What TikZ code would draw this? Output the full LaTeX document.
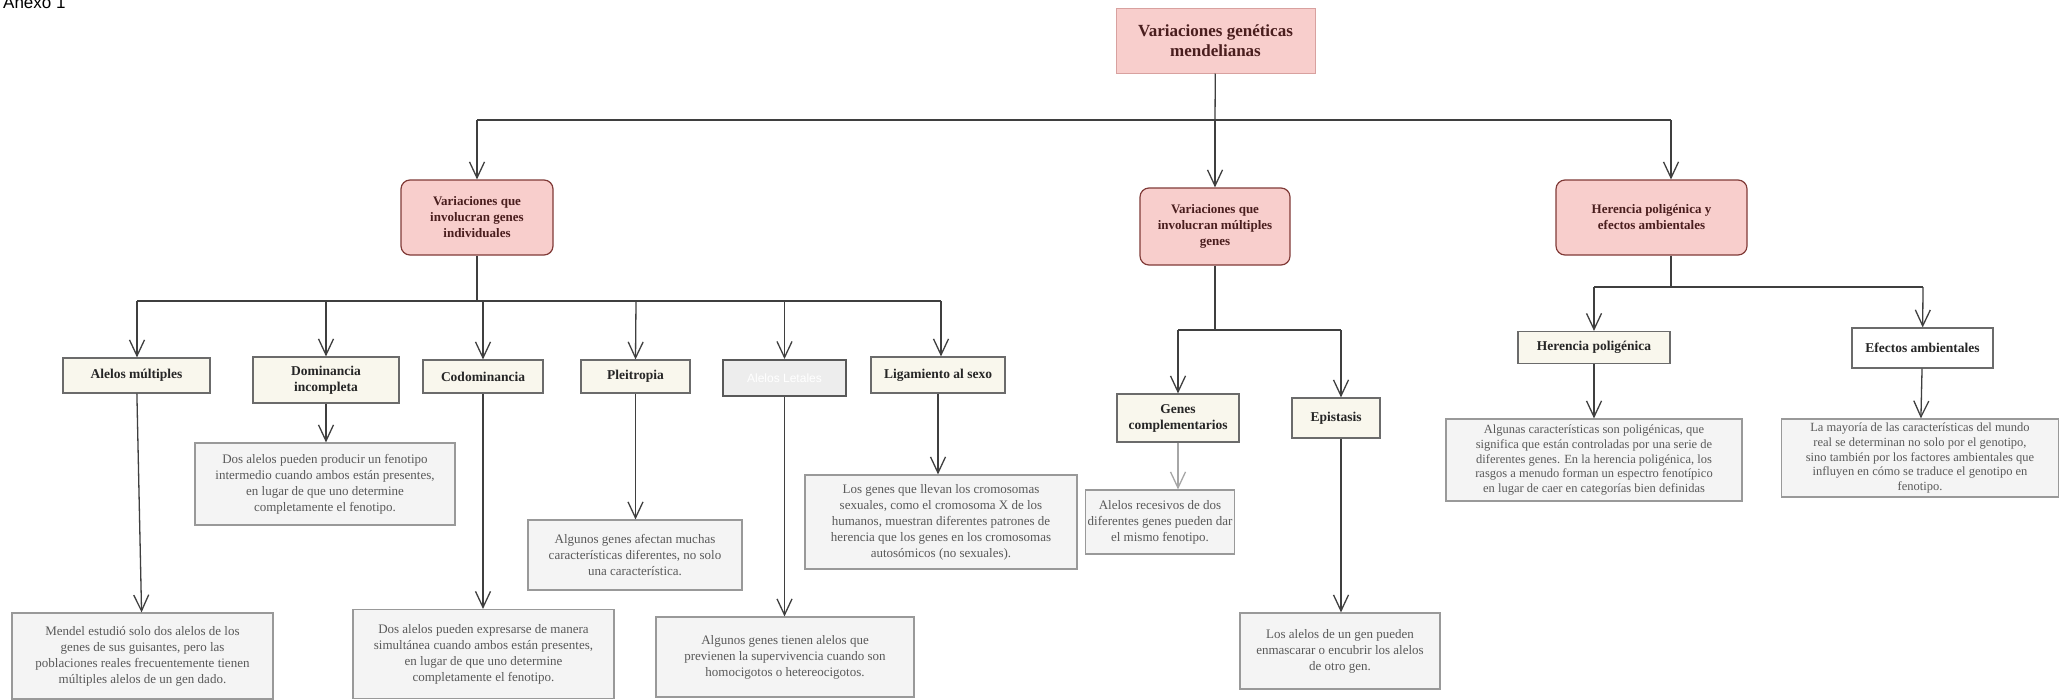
\documentclass[tikz,border=0pt]{standalone}
\usepackage{fontspec}
\setmainfont{Liberation Serif}
\newfontfamily\headfont{Liberation Sans}
\usetikzlibrary{arrows.meta}
\usetikzlibrary{positioning}
\definecolor{c1}{HTML}{F8CECC}
\definecolor{c2}{HTML}{B85450}
\definecolor{c3}{HTML}{F9F7ED}
\definecolor{c4}{HTML}{F4F4F4}
\definecolor{c5}{HTML}{6B6B6B}
\definecolor{c6}{HTML}{3F3F3F}
\definecolor{c7}{HTML}{4A1E1E}
\tikzset{
  root/.style = {rectangle, draw=c2!55, fill=c1, line width=1pt, text=c7, align=center, font=\bfseries\fontsize{17}{20}\selectfont},
  branch/.style = {rectangle, rounded corners=9pt, draw=c2!70!black, fill=c1, line width=1.2pt, text=c7, align=center, font=\bfseries\fontsize{13}{16}\selectfont},
  topic/.style = {rectangle, draw=c5, fill=c3, line width=1.2pt, text=black!85, align=center, font=\bfseries\fontsize{13.5}{16}\selectfont},
  note/.style = {rectangle, draw=black!40, fill=c4, line width=1.2pt, text=black!65, align=center, inner sep=2pt, font=\fontsize{13}{16}\selectfont},
  % notesmall/.style = {note, font=\fontsize{12}{14}\selectfont},
  link/.style = {c6, line width=1.3pt},
  edge/.style = {-{Straight Barb[length=16pt, width=15pt]}, c6, line width=1.3pt},
}

\begin{document}
\begin{tikzpicture}[x=1pt, y=-1pt]
\useasboundingbox (0,0) rectangle (2068,699);
\fill[white] (0,0) rectangle (2068,699);

\node[anchor=base west, inner sep=0pt, font=\headfont\fontsize{17}{20}\selectfont] (anexo) at (3,8) {Anexo 1};

% root and first level
\node[root, minimum width=199pt, minimum height=65pt] (top) at (1215.5,40.5) {Variaciones genéticas\\mendelianas};

\node[branch, minimum width=152pt, minimum height=75pt] (ind) at (477,217.5) {Variaciones que\\involucran genes\\individuales};

\node[branch, minimum width=150pt, minimum height=77pt] (mult) at (1215,226.5) {Variaciones que\\involucran múltiples\\genes};

\node[branch, minimum width=191pt, minimum height=75pt] (poli) at (1651.5,217.5) {Herencia poligénica y\\efectos ambientales};

\coordinate (j0) at (1215,120);
\coordinate (jA) at (477,120);
\coordinate (jC) at (1671,120);

\draw[link] (top) -- (j0);
\draw[link] (jA) -- (jC);
\draw[edge] (jA) -- (ind);
\draw[edge] (j0) -- (mult);
\draw[edge] (jC) -- (jC |- poli.north);

% genes individuales
\node[topic, minimum width=147pt, minimum height=35pt] (alelos) at (136.5,375.5) {Alelos múltiples};

\node[topic, minimum width=146pt, minimum height=46pt] (domin) at (326,380) {Dominancia\\incompleta};

\node[topic, minimum width=120pt, minimum height=33pt] (codom) at (483,376.5) {Codominancia};

\node[topic, minimum width=109pt, minimum height=33pt] (pleio) at (635.5,376.5) {Pleitropia};

\node[topic, fill=black!7, draw=black!65, line width=2pt, text=white, font=\headfont\fontsize{12}{14}\selectfont, minimum width=123pt, minimum height=36pt] (letal) at (784.5,378) {Alelos Letales};

\node[topic, minimum width=134pt, minimum height=36pt] (ligam) at (938,375) {Ligamiento al sexo};

\coordinate (k0) at (477,301);
\coordinate (k1) at (137,301);
\coordinate (k6) at (941,301);

\draw[link] (ind) -- (k0);
\draw[link] (k1) -- (k6);
\draw[edge] (k1) -- (k1 |- alelos.north);
\draw[edge] (326,301) -- (domin);
\draw[edge] (483,301) -- (codom);
\draw[edge] (636,301) -- (pleio.north);
\draw[edge] (784.5,301) -- (letal);
\draw[edge] (k6) -- (k6 |- ligam.north);

\node[note, minimum width=261pt, minimum height=86pt] (alelosTxt) at (142.5,656) {Mendel estudió solo dos alelos de los\\genes de sus guisantes, pero las\\poblaciones reales frecuentemente tienen\\múltiples alelos de un gen dado.};

\node[note, minimum width=260pt, minimum height=82pt] (dominTxt) at (325,484) {Dos alelos pueden producir un fenotipo\\intermedio cuando ambos están presentes,\\en lugar de que uno determine\\completamente el fenotipo.};

\node[note, minimum width=261pt, minimum height=89pt] (codomTxt) at (483.5,654) {Dos alelos pueden expresarse de manera\\simultánea cuando ambos están presentes,\\en lugar de que uno determine\\completamente el fenotipo.};

\node[note, minimum width=214pt, minimum height=70pt] (pleioTxt) at (635,555) {Algunos genes afectan muchas\\características diferentes, no solo\\una característica.};

\node[note, minimum width=258pt, minimum height=80pt] (letalTxt) at (785,657) {Algunos genes tienen alelos que\\previenen la supervivencia cuando son\\homocigotos o hetereocigotos.};

\node[note, minimum width=272pt, minimum height=94pt] (ligamTxt) at (941,522) {Los genes que llevan los cromosomas\\sexuales, como el cromosoma X de los\\humanos, muestran diferentes patrones de\\herencia que los genes en los cromosomas\\autosómicos (no sexuales).};

\draw[edge] (alelos) -- (alelosTxt);
\draw[edge] (domin) -- (domin |- dominTxt.north);
\draw[edge] (codom) -- (codom |- codomTxt.north);
\draw[edge] (pleio) -- (pleio |- pleioTxt.north);
\draw[edge] (letal) -- (letal |- letalTxt.north);
\draw[edge] (ligam) -- (ligam |- ligamTxt.north);

% multiples genes
\node[topic, minimum width=122pt, minimum height=48pt] (compl) at (1178,418) {Genes\\complementarios};

\node[topic, minimum width=88pt, minimum height=40pt] (epist) at (1336,418) {Epistasis};

\coordinate (m0) at (1215,330);
\coordinate (m1) at (1178,330);
\coordinate (m2) at (1341,330);

\draw[link] (mult) -- (m0);
\draw[link] (m1) -- (m2);
\draw[edge] (m1) -- (compl);
\draw[edge] (m2) -- (m2 |- epist.north);

\node[note, minimum width=136pt, minimum height=64pt] (complTxt) at (1160,522) {Alelos recesivos de dos\\diferentes genes pueden dar\\el mismo fenotipo.};

\node[note, minimum width=200pt, minimum height=76pt] (epistTxt) at (1340,651) {Los alelos de un gen pueden\\enmascarar o encubrir los alelos\\de otro gen.};

\draw[edge, black!35] (compl) -- (compl |- complTxt.north);
\draw[edge] (m2 |- epist.south) -- (m2 |- epistTxt.north);

% herencia poligenica
\node[topic, minimum width=152pt, minimum height=32pt] (hpoli) at (1594,347.5) {Herencia poligénica};

\node[topic, fill=white, minimum width=141pt, minimum height=40pt] (efect) at (1922.5,348) {Efectos ambientales};

\coordinate (r0) at (1671,287);
\coordinate (r1) at (1594,287);
\coordinate (r2) at (1923,287);

\draw[link] (jC |- poli.south) -- (r0);
\draw[link] (r1) -- (r2);
\draw[edge] (r1) -- (hpoli);
\draw[edge] (r2) -- (efect);

\node[note, font=\fontsize{12.5}{14.8}\selectfont, minimum width=296pt, minimum height=82pt] (hpoliTxt) at (1594,460) {Algunas características son poligénicas, que\\significa que están controladas por una serie de\\diferentes genes. En la herencia poligénica, los\\rasgos a menudo forman un espectro fenotípico\\en lugar de caer en categorías bien definidas};

\node[note, font=\fontsize{12.5}{14.8}\selectfont, minimum width=277pt, minimum height=78pt] (efectTxt) at (1920,458) {La mayoría de las características del mundo\\real se determinan no solo por el genotipo,\\sino también por los factores ambientales que\\influyen en cómo se traduce el genotipo en\\fenotipo.};

\draw[edge] (hpoli) -- (hpoliTxt);
\draw[edge] (efect) -- (efectTxt);

\end{tikzpicture}
\end{document}
